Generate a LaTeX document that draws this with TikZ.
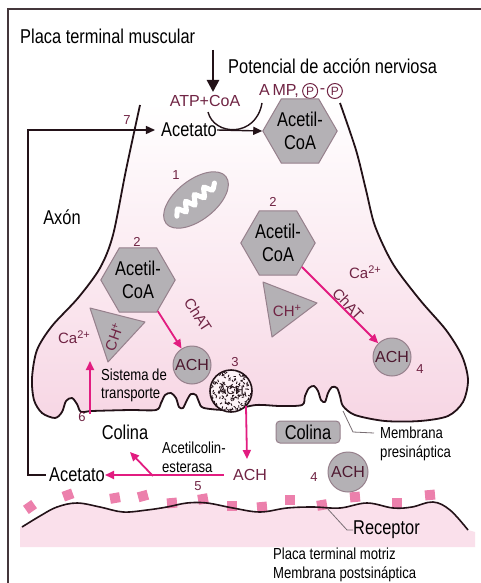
\documentclass[tikz,border=0pt]{standalone}
\usepackage{fontspec}
\setmainfont{Liberation Sans}[FakeStretch=0.82]
\newfontfamily\labfont{Liberation Sans}
\usetikzlibrary{arrows.meta,shapes.geometric}
\definecolor{ink}{RGB}{35,18,24}
\definecolor{maroon}{RGB}{112,36,68}
\definecolor{magen}{RGB}{226,28,128}
\definecolor{cellgray}{RGB}{180,177,181}
\definecolor{cellrim}{RGB}{150,128,140}
\definecolor{termpink}{RGB}{247,214,228}
\definecolor{postpink}{RGB}{250,224,235}
\definecolor{recpink}{RGB}{236,128,172}
\definecolor{leadgray}{RGB}{120,110,115}
\newcommand{\supr}[1]{\raisebox{5pt}{\fontsize{11}{11}\selectfont #1}}
\begin{document}
\begin{tikzpicture}[x=1pt,y=-1pt,
  big/.style={font=\fontsize{20}{22}\selectfont, inner sep=0pt},
  small/.style={font=\fontsize{16}{18}\selectfont, inner sep=0pt, align=left},
  mlab/.style={font=\labfont\fontsize{15}{17}\selectfont, text=maroon, inner sep=0pt},
  num/.style={font=\labfont\fontsize{13}{15}\selectfont, text=maroon, inner sep=0pt},
  phos/.style={circle, draw=maroon, line width=1pt, inner sep=0pt, minimum size=15pt,
    font=\labfont\fontsize{12}{12}\selectfont, text=maroon},
  hexa/.style={regular polygon, regular polygon sides=6, minimum size=70pt, inner sep=0pt,
    fill=cellgray, draw=cellrim, line width=1pt, align=center, font=\fontsize{20}{23}\selectfont},
  ach/.style={circle, minimum size=38pt, inner sep=0pt, fill=cellgray, draw=cellrim,
    line width=1pt, font=\labfont\fontsize{16}{17}\selectfont, text=maroon!70!black},
  tri/.style={fill=cellgray, draw=cellrim, line width=1pt, line join=round},
  pinkarrow/.style={magen, line width=1.8pt, -{Triangle[length=9pt,width=8pt]}},
  inkarrow/.style={ink, line width=1.4pt, -{Triangle[length=9pt,width=8pt]}},
  membrane/.style={ink, line width=1.8pt, line join=round},
  leader/.style={leadgray, line width=0.8pt},
  receptor/.style={rectangle, fill=recpink, minimum size=10pt, inner sep=0pt},
]
\useasboundingbox (0,0) rectangle (481,583);
\fill[white] (0,0) rectangle (481,583);
% frame
\draw[ink!85, line width=1.3pt] (481,9) -- (8,9) -- (8,583);

% postsynaptic muscle side
\fill[postpink] plot[smooth, tension=0.6] coordinates {(22,527) (40,516) (57,507) (77,503) (100,507) (123,512) (147,510) (167,507) (187,503) (207,503) (233,508) (260,512) (287,508) (313,507) (340,508) (367,503) (393,508) (412,507) (433,502) (450,510) (468,530)}
  -- (475,532) -- (475,547) -- (20,547) -- (20,527) -- cycle;
\foreach \x/\y/\r [count=\k] in {30/507/35, 68/495/20, 115/498/10, 143/496/15, 172/503/5, 203/499/10, 232/506/0, 262/507/5, 290/500/0, 322/505/10, 355/497/5, 397/503/0, 430/495/5}
  \node[receptor, rotate=\r] (r\k) at (\x,\y) {};
\draw[ink, line width=1.6pt] plot[smooth, tension=0.6] coordinates {(22,527) (40,516) (57,507) (77,503) (100,507) (123,512) (147,510) (167,507) (187,503) (207,503) (233,508) (260,512) (287,508) (313,507) (340,508) (367,503) (393,508) (412,507) (433,502) (450,510) (468,530)};

% nerve terminal body
\shade[top color=white, bottom color=termpink, middle color=white!50!termpink]
  plot[smooth, tension=0.5] coordinates {(140,105) (126,170) (113,235) (100,268) (78,298) (52,326) (37,350) (32,378) (34,400) (42,413) (55,418) (62,412) (66,401) (72,398) (77,404) (81,412) (92,411) (130,410) (156,410) (161,403) (165,395) (171,393) (176,398) (179,407) (183,408) (187,400) (191,394) (196,395) (199,402) (204,408) (230,410) (256,405) (280,406) (302,405) (305,396) (309,388) (314,386) (318,391) (321,400) (325,402) (328,393) (332,387) (337,388) (340,396) (343,406) (355,415) (385,421) (420,421) (448,416) (463,402) (468,380) (462,356) (446,330) (420,300) (393,264) (375,226) (366,190) (356,150) (340,103)} -- cycle;
\draw[membrane] plot[smooth, tension=0.5] coordinates {(140,105) (126,170) (113,235) (100,268) (78,298) (52,326) (37,350) (32,378) (34,400) (42,413) (55,418) (62,412) (66,401) (72,398) (77,404) (81,412) (92,411) (130,410) (156,410) (161,403) (165,395) (171,393) (176,398) (179,407) (183,408) (187,400) (191,394) (196,395) (199,402) (204,408) (230,410) (256,405) (280,406) (302,405) (305,396) (309,388) (314,386) (318,391) (321,400) (325,402) (328,393) (332,387) (337,388) (340,396) (343,406) (355,415) (385,421) (420,421) (448,416) (463,402) (468,380) (462,356) (446,330) (420,300) (393,264) (375,226) (366,190) (356,150) (340,103)};

% synaptic vesicle fused with the membrane
\node[circle, minimum size=42pt, inner sep=0pt, fill=white!70!termpink] (ves) at (231,391) {};
\begin{scope}
  \clip (231,391) circle (20.5);
  \pgfmathsetseed{11}
  \foreach \i in {1,...,190} {
    \pgfmathsetmacro\px{231+21*rand}
    \pgfmathsetmacro\py{391+21*rand}
    \pgfmathsetmacro\pa{180*rand}
    \draw[ink, line width=0.9pt] (\px,\py) -- ++(\pa:2.4);
  }
\end{scope}
\node[font=\labfont\fontsize{12}{12}\selectfont, text=ink, inner sep=0pt] (vesach) at (231,390) {ACH};
\draw[ink, line width=1.6pt] (ves) circle (21);

% mitochondrion
\node[ellipse, minimum width=76pt, minimum height=40pt, rotate=38, fill=cellgray, draw=cellrim, line width=1pt] (mito) at (196,200) {};
\begin{scope}[shift={(196,200)}, rotate=38]
  \draw[white, line width=5pt, rounded corners=2pt, line cap=round]
    (-25,1) -- (-20,-5) -- (-15,4) -- (-9,-6) -- (-4,4) -- (2,-6) -- (8,4) -- (14,-6) -- (19,3) -- (25,-2);
\end{scope}

% top of terminal: acetyl-CoA synthesis
\node[big, anchor=west] (placa) at (20,36) {Placa terminal muscular};
\node[big, anchor=west] (potencial) at (228,66) {Potencial de acción nerviosa};
\coordinate (apTop) at (213,50);
\coordinate (apTip) at (213,92);
\draw[ink, line width=2.6pt, -{Triangle[length=12pt,width=12pt]}] (apTop) -- (apTip);
\node[mlab, font=\labfont\fontsize{16}{17}\selectfont] (atp) at (205,101) {ATP+CoA};
\node[mlab, font=\labfont\fontsize{16}{17}\selectfont, anchor=west] (amp) at (259,91) {A\,MP,};
\node[phos, anchor=west, xshift=3pt] (p1) at (amp.east) {P};
\node[mlab, font=\labfont\fontsize{16}{17}\selectfont, anchor=west, xshift=1.5pt] (pdash) at (p1.east) {-};
\node[phos, anchor=west, xshift=1.5pt] (p2) at (pdash.east) {P};
\node[big] (acetT) at (189,130) {Acetato};
\node[hexa] (hexT) at (300,131) {Acetil-\\CoA};
\coordinate (arcA) at (208,112);
\coordinate (arcB) at (262,103);
\draw[ink, line width=1.4pt] (arcA) .. controls (214,136) and (256,138) .. (arcB);
\draw[inkarrow] (acetT.east) -- (hexT.west);
\node[num] (n7) at (127,120) {7};
\node[num] (n1) at (176,175) {1};

% return path for acetate
\node[big] (acetB) at (77,475) {Acetato};
\coordinate (rail) at (28,300);
\draw[inkarrow] ([xshift=-3pt]acetB.west) -| (rail) |- ([xshift=-6pt]acetT.west);
\node[big] (axon) at (62,217) {Axón};

% left synthesis site
\node[num] (n2a) at (137,242) {2};
\node[hexa] (hexL) at (138,280) {Acetil-\\CoA};
\draw[tri] (90,308) -- (145,322) -- (108,362) -- cycle;
\node[mlab, rotate=70] (chL) at (114,337) {CH\supr{+}};
\node[mlab] (caL) at (74,337) {Ca\supr{2+}};
\node[ach] (achL) at (192,365) {ACH};
\draw[pinkarrow] (hexL) -- (achL);
\node[mlab, rotate=-57] (chatL) at (198,315) {ChAT};

% right synthesis site
\node[num] (n2b) at (273,202) {2};
\node[hexa] (hexR) at (278,243) {Acetil-\\CoA};
\draw[tri] (263,282) -- (317,303) -- (272,337) -- cycle;
\node[mlab] (chR) at (287,311) {CH\supr{+}};
\node[ach] (achR) at (392,357) {ACH};
\node[num] (n4a) at (420,369) {4};
\draw[pinkarrow] (hexR) -- (achR);
\node[mlab] (caR) at (365,272) {Ca\supr{2+}};
\node[mlab, rotate=-47] (chatR) at (348,304) {ChAT};

% choline uptake
\node[small, anchor=west] (sist1) at (101,375) {Sistema de};
\node[small, anchor=west] (sist2) at (101,395) {transporte};
\coordinate (upFoot) at (90,414);
\coordinate (upTip) at (90,361);
\draw[pinkarrow] (upFoot) -- (upTip);
\node[num] (n6) at (82,417) {6};
\node[num] (n3) at (235,362) {3};

% synaptic cleft
\node[mlab, font=\labfont\fontsize{16}{17}\selectfont] (achF) at (250,475) {ACH};
\coordinate (achTop) at (247,459);
\draw[pinkarrow] (ves.south east) -- (achTop);
\draw[pinkarrow] ([xshift=-9pt]achF.west) -- (acetB.east);
\node[big] (colinaB) at (125,432) {Colina};
\coordinate (brFoot) at (153,476);
\coordinate (brTip) at (130,452);
\draw[pinkarrow] (brFoot) -- (brTip);
\node[small, anchor=west] (ace1) at (162,448) {Acetilcolin-};
\node[small, anchor=west] (ace2) at (162,467) {esterasa};
\node[num] (n5) at (198,486) {5};
\node[big, fill=cellgray, draw=cellrim, line width=1pt, rounded corners=4pt, minimum width=64pt, minimum height=22pt] (colinaG) at (308,432) {Colina};
\node[ach, minimum size=40pt] (achB) at (348,472) {ACH};
\node[num] (n4b) at (314,477) {4};

% membrane labels
\node[small, anchor=west] (mem1) at (380,433) {Membrana};
\node[small, anchor=west] (mem2) at (380,453) {presináptica};
\coordinate (memPt) at (343,411);
\draw[leader] (memPt) -- (353,432) -- ([xshift=-6pt]mem1.west);
\node[big, anchor=west] (recep) at (353,530) {Receptor};
\draw[leader] (r10.south east) -- (347,530) -- (recep.west);
\node[small, anchor=west] (placa2) at (273,554) {Placa terminal motriz};
\node[small, anchor=west] (post) at (273,574) {Membrana postsináptica};
\end{tikzpicture}
\end{document}
